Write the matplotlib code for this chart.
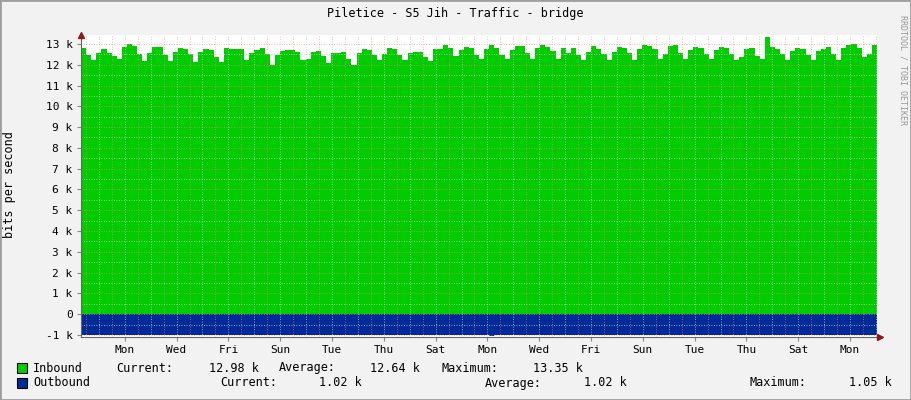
import matplotlib
matplotlib.use("Agg")
import matplotlib.pyplot as plt
import numpy as np
from matplotlib.patches import Rectangle

title = "Piletice - S5 Jih - Traffic - bridge"
day_labels = ["Mon", "Wed", "Fri", "Sun", "Tue", "Thu", "Sat", "Mon",
              "Wed", "Fri", "Sun", "Tue", "Thu", "Sat", "Mon"]
ytick_vals = [-1, 0, 1, 2, 3, 4, 5, 6, 7, 8, 9, 10, 11, 12, 13]
ytick_labels = ["-1 k", "0"] + [f"{v} k" for v in range(1, 14)]

# inbound traffic, k bits/s
inbound = [12.82, 12.47, 12.23, 12.57, 12.76, 12.57, 12.42, 12.28, 12.87, 12.98, 12.90, 12.52,
           12.18, 12.57, 12.86, 12.86, 12.47, 12.18, 12.63, 12.81, 12.74, 12.52, 12.13, 12.62,
           12.76, 12.71, 12.38, 12.13, 12.81, 12.78, 12.78, 12.78, 12.23, 12.57, 12.71, 12.81,
           12.52, 11.99, 12.47, 12.66, 12.70, 12.70, 12.63, 12.23, 12.28, 12.63, 12.65, 12.42,
           12.09, 12.57, 12.58, 12.62, 12.28, 11.99, 12.57, 12.76, 12.71, 12.47, 12.23, 12.52,
           12.81, 12.76, 12.47, 12.23, 12.57, 12.63, 12.63, 12.38, 12.18, 12.76, 12.74, 12.95,
           12.81, 12.44, 12.71, 12.86, 12.81, 12.47, 12.28, 12.76, 12.95,
           12.81, 12.47, 12.28, 12.71, 12.90, 12.90, 12.57, 12.28, 12.81, 12.95, 12.86, 12.66,
           12.28, 12.81, 12.57, 12.81, 12.47, 12.23, 12.62, 12.90, 12.76, 12.52, 12.23, 12.62,
           12.86, 12.81, 12.57, 12.23, 12.76, 12.95, 12.90, 12.76, 12.28, 12.52, 12.90, 12.95,
           12.57, 12.28, 12.71, 12.86, 12.81, 12.52, 12.28, 12.71, 12.86, 12.81, 12.52, 12.23,
           12.38, 12.76, 12.81, 12.42, 12.28, 13.34, 12.86, 12.76, 12.52, 12.23, 12.66, 12.81,
           12.76, 12.47, 12.23, 12.66, 12.76, 12.86, 12.52, 12.23, 12.81, 12.95, 13.00, 12.81,
           12.38, 12.52, 12.95]
# outbound traffic (drawn negative), k bits/s
outbound = [1.02] * 80 + [1.05] + [1.02] * (len(inbound) - 81)

t_start, t_end = -1.19, 29.54  # days relative to first Monday 00:00

W, H = 911, 400
fig = plt.figure(figsize=(W / 100, H / 100), dpi=100, facecolor="#F2F2F2")
ax = fig.add_axes([81 / W, 1 - 337 / H, 796 / W, 302 / H])
ax.set_facecolor("white")

n = len(inbound)
edges = np.linspace(t_start, t_end, n + 1)
inb = np.append(inbound, inbound[-1])
outb = -np.append(outbound, outbound[-1])
ax.fill_between(edges, 0, inb, step="post", color="#00CC00", lw=0, zorder=2)
ax.fill_between(edges, 0, outb, step="post", color="#002A97", lw=0, zorder=2)

ax.set_xlim(t_start, t_end)
ax.set_ylim(-1.1, 13.43)

# grid
for d in np.arange(-1, 30):
    ax.axvline(d, color="#FF8080", lw=0.6, ls=(0, (1, 2)), zorder=3, alpha=0.8)
    ax.axvline(d + 0.5, color="#C8C8C8", lw=0.6, ls=(0, (1, 2)), zorder=3)
for v in ytick_vals:
    ax.axhline(v, color="#FF8080", lw=0.6, ls=(0, (1, 2)), zorder=3, alpha=0.8)
    ax.axhline(v + 0.5, color="#C8C8C8", lw=0.6, ls=(0, (1, 2)), zorder=3)

mono = "DejaVu Sans Mono"
ax.set_yticks(ytick_vals)
ax.set_yticklabels(ytick_labels, fontsize=8, family=mono)
ax.set_xticks([0.5 + 2 * i for i in range(len(day_labels))])
ax.set_xticklabels(day_labels, fontsize=8, family=mono)
ax.tick_params(length=3, color="#888888", pad=3)
for s in ["top", "right"]:
    ax.spines[s].set_visible(False)
ax.spines["left"].set_color("#666666")
ax.spines["bottom"].set_color("#666666")
ax.spines["left"].set_zorder(4)
ax.spines["bottom"].set_zorder(4)
# arrows
ax.plot(0, 1, marker="^", transform=ax.transAxes, color="#8B1A1A", ms=4, clip_on=False, zorder=5)
ax.plot(1.004, 0, marker=">", transform=ax.transAxes, color="#8B1A1A", ms=4, clip_on=False, zorder=5)

fig.text(455 / W, 1 - 14 / H, title, ha="center", va="center", fontsize=8.5, family=mono)
fig.text(10 / W, 1 - 185 / H, "bits per second", rotation=90, ha="center", va="center",
         fontsize=8.5, family=mono)
fig.text(903 / W, 1 - 70 / H, "RRDTOOL / TOBI OETIKER", rotation=270, ha="center", va="center",
         fontsize=6, family=mono, color="#999999")

def lt(x, y, s, ha="left"):
    fig.text(x / W, 1 - y / H, s, ha=ha, va="center", fontsize=8.5, family=mono)

for y, c in [(368, "#00CC00"), (383, "#002A97")]:
    fig.patches.append(Rectangle((17 / W, 1 - (y + 5) / H), 10 / W, 10 / H,
                                 transform=fig.transFigure, facecolor=c, edgecolor="black", lw=0.8))
lt(33, 368, "Inbound"); lt(116, 368, "Current:"); lt(259, 368, "12.98 k", "right")
lt(279, 368, "Average:"); lt(420, 368, "12.64 k", "right")
lt(441, 368, "Maximum:"); lt(583, 368, "13.35 k", "right")
lt(33, 383, "Outbound"); lt(220, 383, "Current:"); lt(362, 383, "1.02 k", "right")
lt(485, 383, "Average:"); lt(627, 383, "1.02 k", "right")
lt(750, 383, "Maximum:"); lt(892, 383, "1.05 k", "right")

# image border
fig.patches.append(Rectangle((0, 0), 1, 1, transform=fig.transFigure, fill=False,
                             edgecolor="#9E9E9E", lw=2))

fig.savefig("out.png", dpi=100, facecolor=fig.get_facecolor())
